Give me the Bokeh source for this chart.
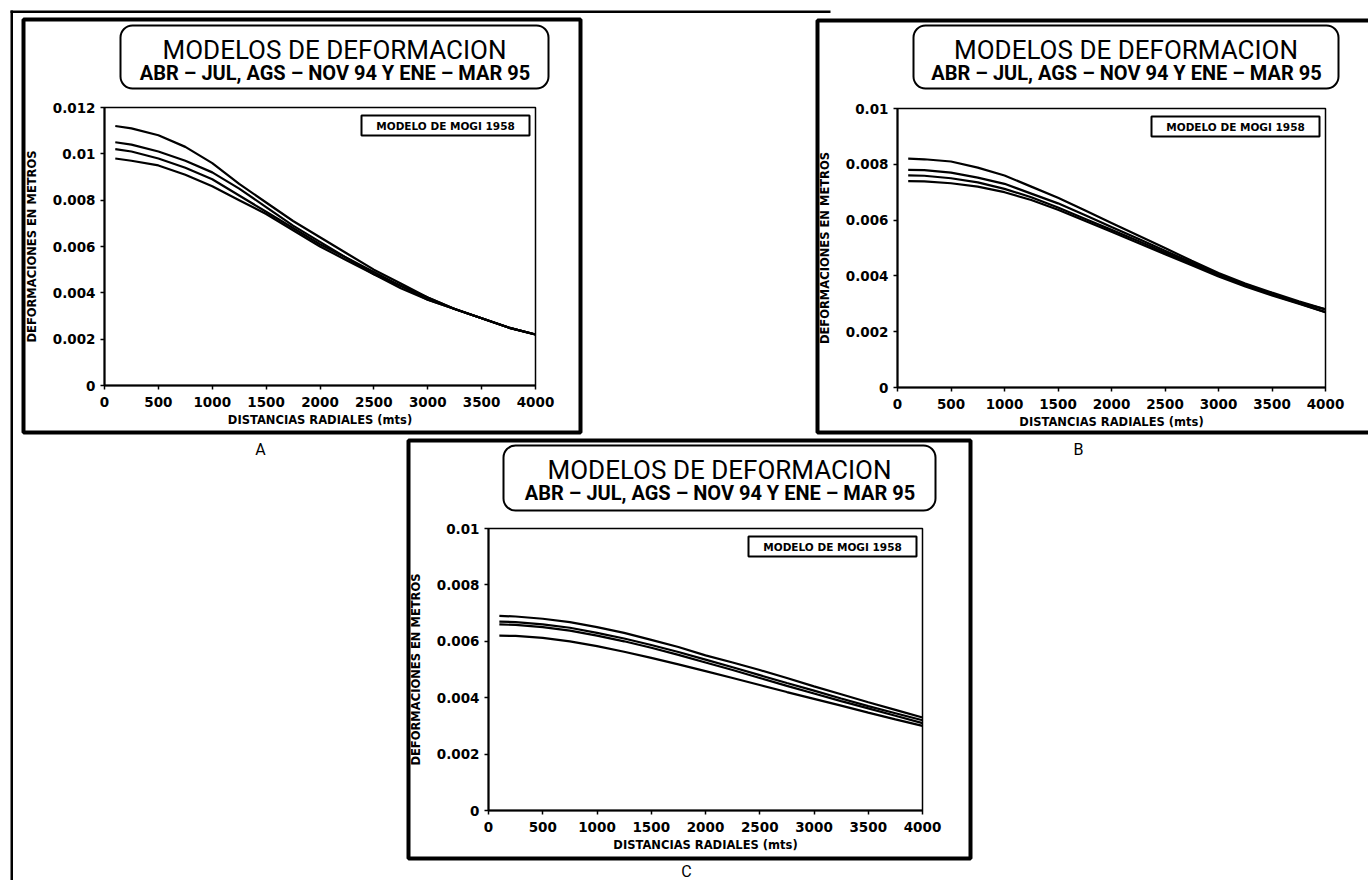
from bokeh.plotting import figure
from bokeh.models import BoxAnnotation, Label, FixedTicker, Range1d, LinearAxis
from bokeh.embed import file_html
from bokeh.resources import INLINE

# ---------------- data ----------------
x_m = [100, 250, 500, 750, 1000, 1250, 1500, 1750, 2000, 2250, 2500, 2750, 3000, 3250, 3500, 3750, 4000]

a_1 = [0.0112, 0.0111, 0.0108, 0.0103, 0.0096, 0.0087, 0.0079, 0.0071, 0.0064, 0.0057, 0.0050, 0.0044, 0.0038, 0.0033, 0.0029, 0.0025, 0.0022]
a_2 = [0.0105, 0.0104, 0.0101, 0.0097, 0.0092, 0.0085, 0.0077, 0.0069, 0.0062, 0.0055, 0.0049, 0.0043, 0.0038, 0.0033, 0.0029, 0.0025, 0.0022]
a_3 = [0.0102, 0.0101, 0.0098, 0.0094, 0.0089, 0.0082, 0.0075, 0.0068, 0.0061, 0.0055, 0.0048, 0.0043, 0.0037, 0.0033, 0.0029, 0.0025, 0.0022]
a_4 = [0.0098, 0.0097, 0.0095, 0.0091, 0.0086, 0.0080, 0.0074, 0.0067, 0.0060, 0.0054, 0.0048, 0.0042, 0.0037, 0.0033, 0.0029, 0.0025, 0.0022]

b_1 = [0.0082, 0.00818, 0.0081, 0.00788, 0.0076, 0.0072, 0.0068, 0.00635, 0.0059, 0.00545, 0.0050, 0.00454, 0.0041, 0.00373, 0.0034, 0.00309, 0.0028]
b_2 = [0.0078, 0.00779, 0.0077, 0.00752, 0.0073, 0.00695, 0.0066, 0.00618, 0.00575, 0.00533, 0.0049, 0.00448, 0.00405, 0.00368, 0.00335, 0.00305, 0.0028]
b_3 = [0.0076, 0.00759, 0.0075, 0.00735, 0.00712, 0.00682, 0.00645, 0.00605, 0.00565, 0.00525, 0.00484, 0.00443, 0.00402, 0.00365, 0.00333, 0.00302, 0.0027]
b_4 = [0.0074, 0.00739, 0.00732, 0.0072, 0.0070, 0.00672, 0.00637, 0.00598, 0.00558, 0.00518, 0.00478, 0.00438, 0.00398, 0.00362, 0.0033, 0.0030, 0.0027]

c_1 = [0.0069, 0.00688, 0.0068, 0.00668, 0.0065, 0.0063, 0.00605, 0.0058, 0.0055, 0.00525, 0.00498, 0.0047, 0.0044, 0.00412, 0.00384, 0.00357, 0.0033]
c_2 = [0.0067, 0.00668, 0.0066, 0.00648, 0.0063, 0.0061, 0.00587, 0.00562, 0.00535, 0.00508, 0.0048, 0.00452, 0.00425, 0.00397, 0.0037, 0.00345, 0.0032]
c_3 = [0.0066, 0.00658, 0.0065, 0.00638, 0.0062, 0.0060, 0.00577, 0.00552, 0.00525, 0.00498, 0.0047, 0.00442, 0.00415, 0.00388, 0.00362, 0.00336, 0.0031]
c_4 = [0.0062, 0.00619, 0.00612, 0.0060, 0.00583, 0.00563, 0.00541, 0.00518, 0.00494, 0.0047, 0.00445, 0.0042, 0.00396, 0.00372, 0.00347, 0.00323, 0.0030]

x_ticks = [0, 500, 1000, 1500, 2000, 2500, 3000, 3500, 4000]
y_ticks_a = [0, 0.002, 0.004, 0.006, 0.008, 0.01, 0.012]
y_labels_a = ["0", "0.002", "0.004", "0.006", "0.008", "0.01", "0.012"]
y_ticks_bc = [0, 0.002, 0.004, 0.006, 0.008, 0.01]
y_labels_bc = ["0", "0.002", "0.004", "0.006", "0.008", "0.01"]

title_main = "MODELOS DE DEFORMACION"
title_sub = "ABR – JUL,  AGS – NOV 94 Y ENE – MAR 95"
legend_text = "MODELO DE MOGI 1958"
x_title = "DISTANCIAS RADIALES (mts)"
y_title = "DEFORMACIONES EN METROS"
panel_letters = ["A", "B", "C"]

TITLE_FONT = "Roboto"
BOLD_FONT = "DejaVu Sans"

# ---------------- layout (page pixels, y down) ----------------
W, H = 1368, 880
X_MAX = 4000


def ranges(plot_box, y_max):
    """Ranges so that 0..X_MAX / 0..y_max land on the given pixel box of the full-page frame."""
    px0, px1, py0, py1 = plot_box
    kx = (px1 - px0) / X_MAX
    ky = (py1 - py0) / y_max
    xr = Range1d(-px0 / kx, X_MAX + (W - px1) / kx)
    yr = Range1d(-(H - py1) / ky, y_max + py0 / ky)
    return xr, yr


plot_a = (104, 535, 107, 385)
plot_b = (897, 1325, 108, 387)
plot_c = (488, 922, 528, 810)

xr_a, yr_a = ranges(plot_a, 0.012)
xr_b, yr_b = ranges(plot_b, 0.01)
xr_c, yr_c = ranges(plot_c, 0.01)

p = figure(width=W, height=H, toolbar_location=None, output_backend="svg", min_border=0,
           x_range=xr_a, y_range=yr_a, x_axis_location=None, y_axis_location=None)
p.extra_x_ranges = {"b": xr_b, "c": xr_c}
p.extra_y_ranges = {"b": yr_b, "c": yr_c}
p.grid.visible = False
p.outline_line_color = None
p.background_fill_color = "white"
p.border_fill_color = "white"


def box(x0, y0, x1, y1, line_width=2, fill=None, radius=0):
    p.add_layout(BoxAnnotation(left=x0, right=x1, top=y0, bottom=y1,
                               left_units="canvas", right_units="canvas",
                               top_units="canvas", bottom_units="canvas",
                               fill_color=fill if fill else "white", fill_alpha=1 if fill else 0,
                               line_color=None if fill else "black", line_alpha=1,
                               line_width=line_width, border_radius=radius, level="overlay"))


def text(x, y, s, size, font=BOLD_FONT, style="normal"):
    p.add_layout(Label(x=x, y=y, x_units="canvas", y_units="canvas", text=s,
                       text_font=font, text_font_size=f"{size}px", text_font_style=style,
                       text_color="black", text_align="center", text_baseline="middle",
                       level="overlay"))


def style_axis(ax):
    ax.axis_line_width = 2
    ax.axis_line_color = "black"
    ax.major_tick_in = 0
    ax.major_tick_out = 4
    ax.major_tick_line_color = "black"
    ax.major_tick_line_width = 1.5
    ax.minor_tick_line_color = None
    ax.major_label_text_font = BOLD_FONT
    ax.major_label_text_font_style = "bold"
    ax.major_label_text_font_size = "13.5px"
    ax.major_label_text_color = "black"
    ax.axis_label_text_font = BOLD_FONT
    ax.axis_label_text_font_style = "bold"
    ax.axis_label_text_color = "black"
    ax.axis_label_text_font_size = "11.5px"


def panel(rname, plot_box, y_max, y_ticks, y_labels, series, frame, tbox, letter, letter_pos):
    for s in series:
        p.line(x_m, s, x_range_name=rname, y_range_name=rname, line_color="black", line_width=2.2)

    xa = LinearAxis(x_range_name=rname, y_range_name=rname, fixed_location=0, bounds=(0, X_MAX),
                    ticker=FixedTicker(ticks=x_ticks), axis_label=x_title)
    style_axis(xa)
    xa.major_label_standoff = 7
    xa.axis_label_standoff = 3
    p.add_layout(xa, "below")

    ya = LinearAxis(x_range_name=rname, y_range_name=rname, fixed_location=0, bounds=(0, y_max),
                    ticker=FixedTicker(ticks=y_ticks), axis_label=y_title,
                    major_label_overrides={t: l for t, l in zip(y_ticks, y_labels)})
    style_axis(ya)
    ya.major_label_standoff = 5
    ya.axis_label_standoff = 11
    p.add_layout(ya, "left")

    px0, px1, py0, py1 = plot_box
    box(px0, py0, px1, py1, line_width=1.5)

    fx0, fy0, fx1, fy1 = frame
    box(fx0, fy0, fx1, fy1, line_width=4)

    bx0, by0, bx1, by1 = tbox
    box(bx0, by0, bx1, by1, line_width=2, radius=12)
    cx = (bx0 + bx1) / 2
    text(cx, by0 + 24, title_main, 26, font=TITLE_FONT)
    text(cx + 3, by0 + 47, title_sub, 20, font=TITLE_FONT, style="bold")

    lx1 = px1 - 6
    lx0 = lx1 - 168
    ly0 = py0 + 8
    box(lx0, ly0, lx1, ly0 + 20, line_width=2)
    text((lx0 + lx1) / 2, ly0 + 10, legend_text, 10.5, style="bold")

    text(letter_pos[0], letter_pos[1], letter, 16, font=TITLE_FONT)


# page border (left and top)
box(10, 10, 12.5, 882, fill="black")
box(10, 10, 830, 12.5, fill="black")

panel("default", plot_a, 0.012, y_ticks_a, y_labels_a, [a_1, a_2, a_3, a_4],
      (23, 19, 580, 432), (120, 25, 548, 88), panel_letters[0], (260, 449))
panel("b", plot_b, 0.01, y_ticks_bc, y_labels_bc, [b_1, b_2, b_3, b_4],
      (817, 20, 1420, 432), (913, 25, 1338, 88), panel_letters[1], (1078, 449))
panel("c", plot_c, 0.01, y_ticks_bc, y_labels_bc, [c_1, c_2, c_3, c_4],
      (408, 440, 970, 858), (503, 445, 935, 510), panel_letters[2], (686, 871))

with open("out.html", "w") as f:
    f.write(file_html(p, INLINE))
